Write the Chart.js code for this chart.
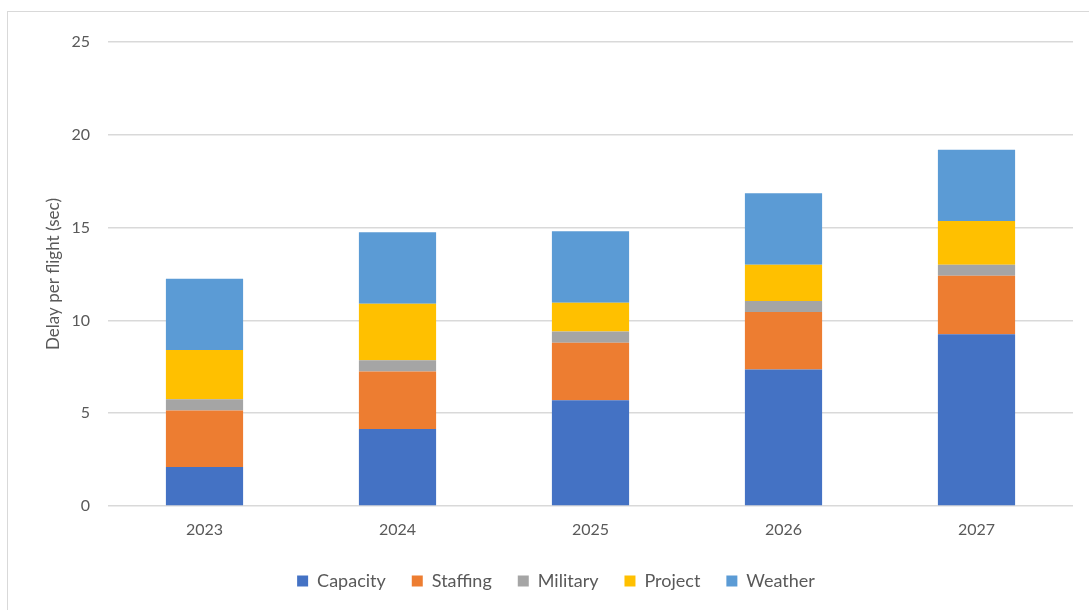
<!DOCTYPE html>
<html>
<head>
<meta charset="utf-8">
<title>Delay per flight</title>
<script src="https://cdn.jsdelivr.net/npm/chart.js@4"></script>
<style>
  body { margin: 0; background: #ffffff; }
  #wrap { position: relative; width: 1089px; height: 610px; overflow: hidden; }
  #frame {
    position: absolute; left: 7px; top: 11px; right: -2px; bottom: -2px;
    border-top: 1px solid #d9d9d9; border-left: 1px solid #d9d9d9;
  }
  canvas { position: absolute; left: 0; top: 0; }
</style>
</head>
<body>
<div id="wrap">
  <div id="frame"></div>
  <canvas id="delayChart" width="1089" height="610"></canvas>
</div>
<script>
// years and delay components (seconds per flight)
const years = ['2023', '2024', '2025', '2026', '2027'];
const capacity = [2.1, 4.15, 5.7, 7.35, 9.25];
const staffing = [3.05, 3.1, 3.1, 3.1, 3.15];
const military = [0.6, 0.6, 0.6, 0.6, 0.6];
const project = [2.65, 3.05, 1.55, 1.95, 2.35];
const weather = [3.85, 3.85, 3.85, 3.85, 3.85];
const yTicks = [0, 5, 10, 15, 20, 25];

const textColor = '#595959';
const fontFamily = 'Lato, "Open Sans", sans-serif';

function series(label, data, color) {
    return {
        label: label,
        data: data,
        backgroundColor: color,
        borderWidth: 0,
        categoryPercentage: 0.8,
        barPercentage: 0.5
    };
}

const ctx = document.getElementById('delayChart').getContext('2d');
const delayChart = new Chart(ctx, {
    type: 'bar',
    data: {
        labels: years,
        datasets: [
            series('Capacity', capacity, '#4472c4'),
            series('Staffing', staffing, '#ed7d31'),
            series('Military', military, '#a5a5a5'),
            series('Project', project, '#ffc000'),
            series('Weather', weather, '#5b9bd5')
        ]
    },
    options: {
        responsive: false,
        animation: false,
        layout: {
            padding: { left: 39, right: 16, top: 42, bottom: 10 }
        },
        scales: {
            x: {
                stacked: true,
                grid: { display: false },
                border: { display: false },
                ticks: {
                    color: textColor,
                    padding: 6,
                    font: { family: fontFamily, size: 16 }
                },
                afterFit: function(scale) { scale.height = 40; }
            },
            y: {
                stacked: true,
                min: yTicks[0],
                max: yTicks[yTicks.length - 1],
                afterBuildTicks: function(scale) {
                    scale.ticks = yTicks.map(function(v) { return { value: v }; });
                },
                grid: {
                    color: '#d9d9d9',
                    lineWidth: 1.5,
                    drawTicks: false
                },
                border: { display: false },
                ticks: {
                    color: textColor,
                    padding: 18,
                    font: { family: fontFamily, size: 16 }
                },
                title: {
                    display: true,
                    text: 'Delay per flight (sec)',
                    color: textColor,
                    font: { family: fontFamily, size: 17 },
                    padding: { top: 4, bottom: 4 }
                },
                afterFit: function(scale) { scale.width = 69; }
            }
        },
        plugins: {
            legend: {
                position: 'bottom',
                labels: {
                    color: textColor,
                    boxWidth: 11,
                    boxHeight: 11,
                    padding: 26,
                    font: { family: fontFamily, size: 18 }
                }
            },
            tooltip: { enabled: false }
        }
    }
});
</script>
</body>
</html>
